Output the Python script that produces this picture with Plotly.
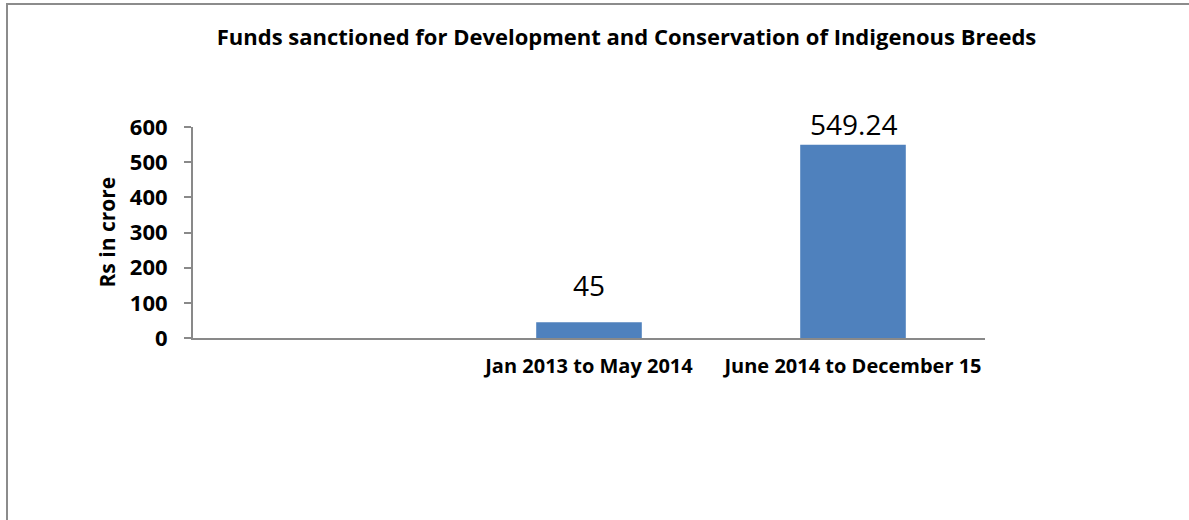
import plotly.graph_objects as go

categories = [" ", "Jan 2013 to May 2014", "June 2014 to December 15"]
values = [None, 45, 549.24]
value_labels = ["", "45", "549.24"]
y_ticks = [0, 100, 200, 300, 400, 500, 600]

title_text = "Funds sanctioned for Development and Conservation of Indigenous Breeds"
y_title = "Rs in crore"

W, H = 1189, 520
L = 193
T = 127
R = W - 985
B = H - 338
pw, ph = W - L - R, H - T - B

FONT = "Open Sans"
AX = "#898989"

fig = go.Figure()
fig.add_trace(go.Bar(x=categories, y=values, marker=dict(color="#4F81BD", line=dict(width=0)),
                     hoverinfo="skip"))

# label offsets (pixels above bar top, to text center)
label_shift = [0, 37, 21]
for c, v, t, s in zip(categories, values, value_labels, label_shift):
    if v is None:
        continue
    fig.add_annotation(x=c, y=v, text=t, showarrow=False, yanchor="middle", yshift=s,
                       font=dict(family=FONT, size=28, color="#000000"))

def px_x(px):
    return (px - L) / pw

def px_y(py):
    return (H - B - py) / ph

fig.add_annotation(xref="paper", yref="paper", x=px_x(106), y=0.5, text=y_title,
                   textangle=-90, showarrow=False, xanchor="center", yanchor="middle",
                   font=dict(family=FONT, size=21, color="#000000", weight="bold"))

fig.add_shape(type="rect", xref="paper", yref="paper",
              x0=px_x(7), x1=px_x(1200), y0=px_y(530), y1=px_y(4),
              line=dict(color="#8c8c8c", width=2), fillcolor="rgba(0,0,0,0)", layer="below")

fig.update_layout(
    width=W, height=H,
    margin=dict(l=L, r=R, t=T, b=B),
    paper_bgcolor="white", plot_bgcolor="white",
    showlegend=False,
    bargap=0.6,
    title=dict(text=title_text, x=626.5 / W, xanchor="center", xref="container",
               y=1 - 37 / H, yanchor="middle", yref="container",
               font=dict(family=FONT, size=22, color="#000000", weight="bold")),
)
fig.update_xaxes(type="category", showline=True, linecolor=AX, linewidth=2, ticks="",
                 showgrid=False, zeroline=False, ticklabelstandoff=9,
                 tickfont=dict(family=FONT, size=20, color="#000000", weight="bold"))
fig.update_yaxes(range=[0, 600], tickvals=y_ticks, showline=True, linecolor=AX, linewidth=2,
                 ticks="outside", ticklen=7, tickcolor=AX, tickwidth=2, showgrid=False,
                 zeroline=False, ticklabelstandoff=12,
                 tickfont=dict(family=FONT, size=22, color="#000000", weight="bold"))

fig.write_html("out.html", config={"displayModeBar": False, "staticPlot": True},
               post_script="document.body.style.margin='0';document.body.style.overflow='hidden';")
